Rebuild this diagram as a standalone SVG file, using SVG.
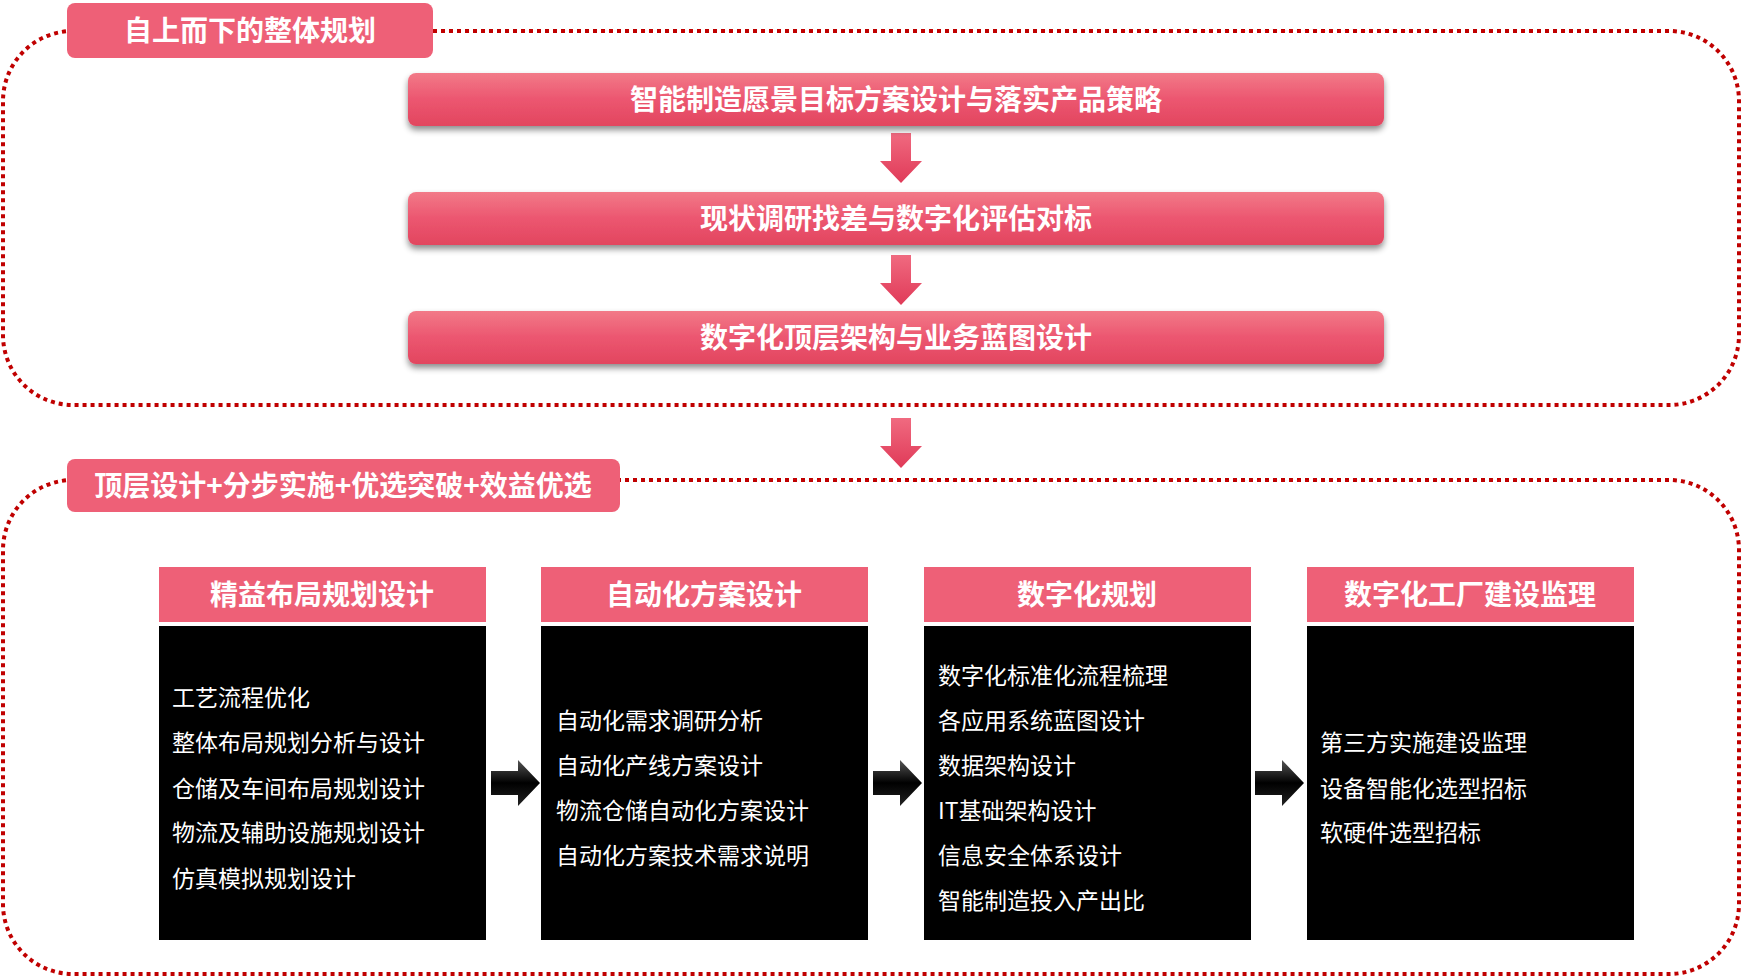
<svg xmlns="http://www.w3.org/2000/svg" width="1742" height="977" viewBox="0 0 1742 977">
<defs>
<linearGradient id="bar" x1="0" y1="0" x2="0" y2="1"><stop offset="0" stop-color="#f27a88"/><stop offset="0.5" stop-color="#ec5670"/><stop offset="1" stop-color="#e2465f"/></linearGradient>
<linearGradient id="ra" x1="0" y1="0" x2="0" y2="1"><stop offset="0" stop-color="#f06a80"/><stop offset="1" stop-color="#e03a58"/></linearGradient>
<linearGradient id="ba" x1="0" y1="0" x2="0" y2="1"><stop offset="0" stop-color="#555"/><stop offset="0.5" stop-color="#000"/><stop offset="1" stop-color="#222"/></linearGradient>
<filter id="sh" x="-5%" y="-30%" width="110%" height="170%"><feDropShadow dx="0" dy="4" stdDeviation="3" flood-color="#000" flood-opacity="0.45"/></filter>
<style>
.frame{fill:none;stroke:#c00000;stroke-width:4;stroke-dasharray:4 4}
.lab{fill:#ee6077}
.t{font-family:"Noto Sans CJK SC","Liberation Sans",sans-serif;fill:#fff}
.big{font-size:28px;font-weight:bold;text-anchor:middle}
.body{font-size:23px}
</style>
</defs>
<g id="connectors">
<rect class="frame" x="3" y="31" width="1736" height="374" rx="70"/>
<rect class="frame" x="3" y="480" width="1736" height="494" rx="70"/>
<path d="M891 133h20v28h11l-21 22-21-22h11z" fill="url(#ra)"/>
<path d="M891 255h20v28h11l-21 22-21-22h11z" fill="url(#ra)"/>
<path d="M891 418h20v28h11l-21 22-21-22h11z" fill="url(#ra)"/>
<path d="M491 771h27v-11l22 23-22 23v-11h-27z" fill="url(#ba)"/>
<path d="M873 771h27v-11l22 23-22 23v-11h-27z" fill="url(#ba)"/>
<path d="M1255 771h27v-11l22 23-22 23v-11h-27z" fill="url(#ba)"/>
</g>
<g id="label1"><rect class="lab" x="67" y="3" width="366" height="55" rx="8"/><text class="t big" x="250" y="41">自上而下的整体规划</text></g>
<g id="bar1"><rect x="408" y="73" width="976" height="53" rx="8" fill="url(#bar)" filter="url(#sh)"/><text class="t big" x="896" y="110">智能制造愿景目标方案设计与落实产品策略</text></g>
<g id="bar2"><rect x="408" y="192" width="976" height="53" rx="8" fill="url(#bar)" filter="url(#sh)"/><text class="t big" x="896" y="229">现状调研找差与数字化评估对标</text></g>
<g id="bar3"><rect x="408" y="311" width="976" height="53" rx="8" fill="url(#bar)" filter="url(#sh)"/><text class="t big" x="896" y="348">数字化顶层架构与业务蓝图设计</text></g>
<g id="label2"><rect class="lab" x="67" y="459" width="553" height="53" rx="8"/><text class="t big" x="343" y="496">顶层设计+分步实施+优选突破+效益优选</text></g>
<g id="col1"><rect class="lab" x="159" y="567" width="327" height="55"/><rect x="159" y="626" width="327" height="314" fill="#000"/><text class="t big" x="322" y="605">精益布局规划设计</text>
<text class="t body" x="172" y="706">工艺流程优化</text><text class="t body" x="172" y="751">整体布局规划分析与设计</text><text class="t body" x="172" y="797">仓储及车间布局规划设计</text><text class="t body" x="172" y="841">物流及辅助设施规划设计</text><text class="t body" x="172" y="887">仿真模拟规划设计</text></g>
<g id="col2"><rect class="lab" x="541" y="567" width="327" height="55"/><rect x="541" y="626" width="327" height="314" fill="#000"/><text class="t big" x="704" y="605">自动化方案设计</text>
<text class="t body" x="556" y="729">自动化需求调研分析</text><text class="t body" x="556" y="774">自动化产线方案设计</text><text class="t body" x="556" y="819">物流仓储自动化方案设计</text><text class="t body" x="556" y="864">自动化方案技术需求说明</text></g>
<g id="col3"><rect class="lab" x="924" y="567" width="327" height="55"/><rect x="924" y="626" width="327" height="314" fill="#000"/><text class="t big" x="1087" y="605">数字化规划</text>
<text class="t body" x="938" y="684">数字化标准化流程梳理</text><text class="t body" x="938" y="729">各应用系统蓝图设计</text><text class="t body" x="938" y="774">数据架构设计</text><text class="t body" x="938" y="819">IT基础架构设计</text><text class="t body" x="938" y="864">信息安全体系设计</text><text class="t body" x="938" y="909">智能制造投入产出比</text></g>
<g id="col4"><rect class="lab" x="1307" y="567" width="327" height="55"/><rect x="1307" y="626" width="327" height="314" fill="#000"/><text class="t big" x="1470" y="605">数字化工厂建设监理</text>
<text class="t body" x="1320" y="751">第三方实施建设监理</text><text class="t body" x="1320" y="797">设备智能化选型招标</text><text class="t body" x="1320" y="841">软硬件选型招标</text></g>
</svg>
